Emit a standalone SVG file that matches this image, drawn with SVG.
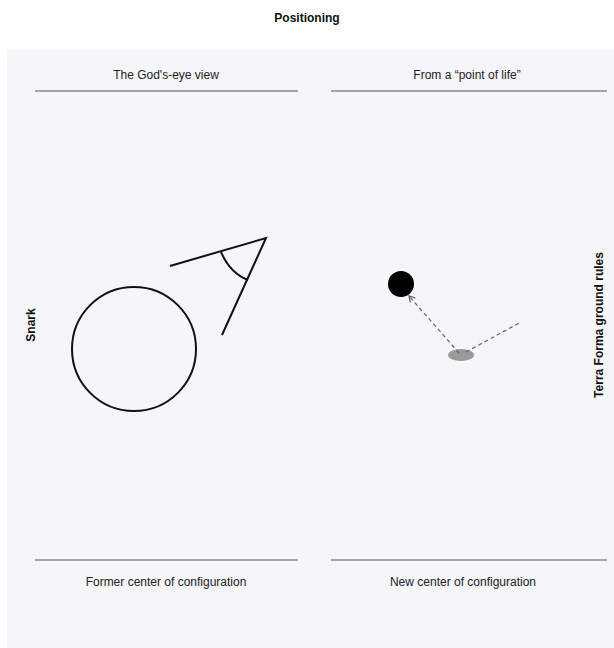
<svg xmlns="http://www.w3.org/2000/svg" width="614" height="648" viewBox="0 0 614 648">
<style>
.t{font-family:"Liberation Sans",Arial,sans-serif;font-size:12px;fill:#222;text-anchor:middle}
.b{font-weight:bold;fill:#111}
.rule{stroke:#8a8a8e;stroke-width:1.5}
.ink{stroke:#111;stroke-width:2;fill:none}
.dash{stroke:#666;stroke-width:1.2;stroke-dasharray:4 3;fill:none}
</style>
<defs>
<marker id="arr" viewBox="0 0 10 10" refX="8" refY="5" markerWidth="7" markerHeight="7" orient="auto-start-reverse">
<path d="M1,1 L8,5 L1,9" fill="none" stroke="#666" stroke-width="1.5"/>
</marker>
</defs>
<rect width="614" height="648" fill="#ffffff"/>
<rect x="7" y="50" width="607" height="598" fill="#f5f5fa"/>
<text class="t b" x="307" y="22">Positioning</text>
<g id="headers">
<text class="t" x="166" y="79">The God's-eye view</text>
<line class="rule" x1="35" y1="91" x2="298" y2="91"/>
<text class="t" x="467" y="79">From a “point of life”</text>
<line class="rule" x1="331" y1="91" x2="607" y2="91"/>
<line class="rule" x1="35" y1="560" x2="298" y2="560"/>
<text class="t" x="166" y="586">Former center of configuration</text>
<line class="rule" x1="331" y1="560" x2="607" y2="560"/>
<text class="t" x="463" y="586">New center of configuration</text>
</g>
<text class="t b" transform="translate(35,325) rotate(-90)">Snark</text>
<text class="t b" transform="translate(603,325) rotate(-90)">Terra Forma ground rules</text>
<g id="snark">
<circle class="ink" cx="134" cy="349" r="62"/>
</g>
<g id="eye">
<polyline class="ink" points="170,266 266,238 222,335"/>
<path class="ink" d="M221,252 Q230,273 248,280"/>
</g>
<g id="body">
<circle cx="401" cy="284" r="13" fill="#000"/>
</g>
<g id="point">
<ellipse cx="461" cy="355" rx="13" ry="6" fill="#999"/>
</g>
<g id="connectors">
<line class="dash" x1="459" y1="353" x2="409" y2="296" marker-end="url(#arr)"/>
<line class="dash" x1="466" y1="352" x2="521" y2="322"/>
</g>
</svg>
